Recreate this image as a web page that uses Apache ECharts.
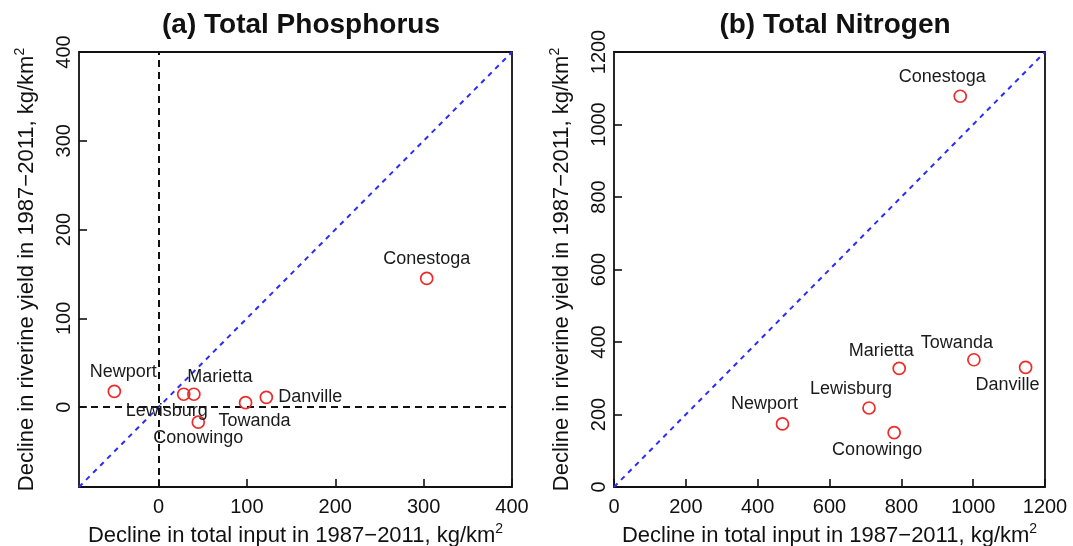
<!DOCTYPE html>
<html>
<head>
<meta charset="utf-8">
<title>Decline in input vs riverine yield, 1987–2011</title>
<script src="https://cdn.jsdelivr.net/npm/echarts@6/dist/echarts.min.js"></script>
<style>
  html, body { margin: 0; padding: 0; background: #fff; }
  #chart { width: 1073px; height: 546px; }
</style>
</head>
<body>
<div id="chart"></div>
<script>
// Monitoring sites (same order in both panels)
const sites = ['Newport', 'Lewisburg', 'Marietta', 'Towanda', 'Danville', 'Conowingo', 'Conestoga'];

// (a) Total phosphorus, kg/km2
const tpInputDecline = [-50, 28.5, 40, 98.5, 122, 45, 303.5];
const tpYieldDecline = [17.7, 14.5, 14.5, 5, 11, -17, 145];

// (b) Total nitrogen, kg/km2
const tnInputDecline = [469, 710, 794, 1002, 1146, 780, 964];
const tnYieldDecline = [174, 218, 327, 351, 330, 150, 1078];

// Axis extents and tick labels
const tpRange = [-90, 400];
const tnRange = [0, 1200];
const tpTicks = [0, 100, 200, 300, 400];
const tnTicks = [0, 200, 400, 600, 800, 1000, 1200];

// Label placement (pixel offsets of each site name from its circle)
const tpLabelOffset = [[9, -19], [-17, 17], [26, -17], [9, 18], [44, 0], [0, 16], [0, -19]];
const tnLabelOffset = [[-18, -20], [-18, -19], [-18, -17], [-17, -17], [-18, 18], [-17, 17], [-18, -19]];

const FONT = '"Liberation Sans", Arial, Helvetica, sans-serif';
const xTitle = 'Decline in total input in 1987\u22122011, kg/km{sup|2}';
const yTitle = 'Decline in riverine yield in 1987\u22122011, kg/km{sup|2}';

const nameStyle = {
  fontFamily: FONT, fontSize: 22, color: '#111',
  rich: { sup: { fontFamily: FONT, fontSize: 14, color: '#111', padding: [0, 0, 14, 0] } }
};

function axis(range, ticks, isY, gridIndex, title) {
  return {
    type: 'value', gridIndex,
    min: range[0], max: range[1],
    name: title, nameLocation: 'middle', nameGap: isY ? 38 : 32,
    nameTextStyle: nameStyle,
    axisLine: { show: false, onZero: false },
    splitLine: { show: false },
    axisTick: { show: true, inside: true, length: 8, customValues: ticks,
      lineStyle: { color: '#111', width: 1.6 } },
    axisLabel: { customValues: ticks, rotate: isY ? 90 : 0, margin: isY ? 5 : 10,
      fontFamily: FONT, fontSize: 20, color: '#111',
      formatter: v => String(v) }
  };
}

function points(xs, ys, offsets, gridIndex) {
  return {
    type: 'scatter', xAxisIndex: gridIndex, yAxisIndex: gridIndex,
    symbol: 'circle', symbolSize: 12,
    itemStyle: { color: 'rgba(0,0,0,0)', borderColor: '#f02a2a', borderWidth: 1.7, opacity: 1 },
    label: { show: true, position: 'inside', fontFamily: FONT, fontSize: 18, color: '#1a1a1a',
      formatter: p => p.name },
    z: 5,
    data: sites.map((s, i) => ({ name: s, value: [xs[i], ys[i]], label: { offset: offsets[i] } }))
  };
}

function oneToOne(range, gridIndex) {
  return {
    type: 'line', xAxisIndex: gridIndex, yAxisIndex: gridIndex,
    symbol: 'none', silent: true, z: 3,
    lineStyle: { color: '#2b2bff', width: 2, type: [5, 5] },
    data: [[range[0], range[0]], [range[1], range[1]]]
  };
}

const gridBase = { top: 52, height: 435, show: true, borderColor: '#111', borderWidth: 1.8,
  backgroundColor: 'transparent', containLabel: false, outerBoundsMode: 'none' };

const chart = echarts.init(document.getElementById('chart'), null, { renderer: 'canvas' });
chart.setOption({
  animation: false,
  backgroundColor: '#fff',
  title: [
    { text: '(a) Total Phosphorus', left: 296, top: 6, textAlign: 'center',
      textStyle: { fontFamily: FONT, fontSize: 28, fontWeight: 'bold', color: '#111' } },
    { text: '(b) Total Nitrogen', left: 830, top: 6, textAlign: 'center',
      textStyle: { fontFamily: FONT, fontSize: 28, fontWeight: 'bold', color: '#111' } }
  ],
  grid: [
    Object.assign({ left: 79, width: 433 }, gridBase),
    Object.assign({ left: 614, width: 431 }, gridBase)
  ],
  xAxis: [
    axis(tpRange, tpTicks, false, 0, xTitle),
    axis(tnRange, tnTicks, false, 1, xTitle)
  ],
  yAxis: [
    axis(tpRange, tpTicks, true, 0, yTitle),
    axis(tnRange, tnTicks, true, 1, yTitle)
  ],
  series: [
    {
      type: 'line', xAxisIndex: 0, yAxisIndex: 0, data: [], silent: true,
      markLine: {
        silent: true, symbol: 'none', label: { show: false },
        lineStyle: { color: '#111', width: 2, type: [7, 5] },
        data: [{ xAxis: 0 }, { yAxis: 0 }]
      }
    },
    oneToOne(tpRange, 0),
    oneToOne(tnRange, 1),
    points(tpInputDecline, tpYieldDecline, tpLabelOffset, 0),
    points(tnInputDecline, tnYieldDecline, tnLabelOffset, 1)
  ]
});
</script>
</body>
</html>
